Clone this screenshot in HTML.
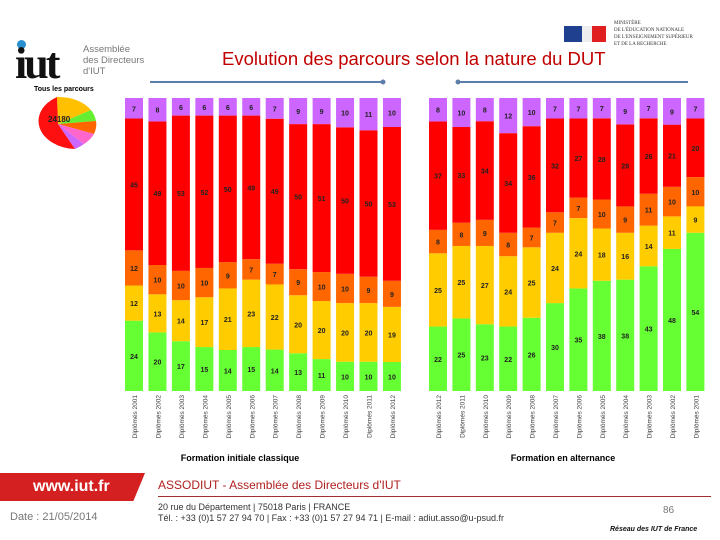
<!DOCTYPE html>
<html><head><meta charset="utf-8"><style>
body{margin:0;width:720px;height:540px;background:#fff;position:relative;overflow:hidden;font-family:"Liberation Sans",sans-serif}
.abs{position:absolute}
</style></head><body>
<div class="abs" style="left:12px;top:20px;width:140px;height:60px">
 <div class="abs" style="left:5px;top:20px;width:9px;height:9px;border-radius:50%;background:#2a8fd0"></div>
 <div class="abs" style="left:3px;top:18px;font:bold 44px 'Liberation Serif',serif;color:#111;letter-spacing:-3px">iut</div>
 <div class="abs" style="left:71px;top:24px;font:9.5px 'Liberation Sans',sans-serif;color:#777;line-height:11px;white-space:nowrap">Assemblée<br>des Directeurs<br>d'IUT</div>
</div>
<div class="abs" style="left:560px;top:20px;width:160px;height:40px">
 <div class="abs" style="left:4px;top:6px;width:18px;height:16px;background:#1f3f8f"></div>
 <div class="abs" style="left:22px;top:6px;width:10px;height:16px;background:#eee"></div>
 <div class="abs" style="left:32px;top:6px;width:14px;height:16px;background:#e02020"></div>
 <div class="abs" style="left:54px;top:0px;font:5px 'Liberation Serif',serif;color:#333;line-height:7px">MINISTÈRE<br>DE L'ÉDUCATION NATIONALE<br>DE L'ENSEIGNEMENT SUPÉRIEUR<br>ET DE LA RECHERCHE</div>
</div>
<div class="abs" style="left:222px;top:48px;font:18.5px 'Liberation Sans',sans-serif;color:#c00000;white-space:nowrap">Evolution des parcours selon la nature du DUT</div>
<div class="abs" style="left:34px;top:86px;font:bold 7px 'Liberation Sans',sans-serif">Tous les parcours</div>
<svg class="abs" style="left:0;top:0" width="720" height="540" id="svg">
 <line x1="150" y1="82" x2="383" y2="82" stroke="#5b7fa8" stroke-width="2"/>
 <circle cx="383" cy="82" r="2.5" fill="#5b7fa8"/>
 <line x1="458" y1="82" x2="688" y2="82" stroke="#5b7fa8" stroke-width="2"/>
 <circle cx="458" cy="82" r="2.5" fill="#5b7fa8"/>
 <g>
  <path d="M58,124 L57,97 A38,28 0 0 1 91,110 Z" fill="#ffc000"/>
  <path d="M58,124 L91,110 A38,28 0 0 1 96,121 Z" fill="#66ee33"/>
  <path d="M58,124 L96,121 A38,28 0 0 1 94,134 Z" fill="#ff6600"/>
  <path d="M58,124 L94,134 A38,28 0 0 1 84,144 Z" fill="#ff66cc"/>
  <path d="M58,124 L84,144 A38,28 0 0 1 75,149 Z" fill="#cc66ff"/>
  <path d="M58,124 L75,149 A38,28 0 0 1 57,97 Z" fill="#ff1010"/>
  <text x="48" y="122" font-size="8" font-weight="bold" fill="#222">24180</text>
 </g>
 <text x="240" y="461" font-size="9" font-weight="bold" text-anchor="middle">Formation initiale classique</text>
 <text x="563" y="461" font-size="9" font-weight="bold" text-anchor="middle">Formation en alternance</text>
</svg>
<div class="abs" style="left:0;top:473px;width:145px;height:28px;background:#d42020;clip-path:polygon(0 0,100% 0,92% 100%,0 100%)"></div>
<div class="abs" style="left:33px;top:478px;font:bold 16px 'Liberation Sans',sans-serif;color:#fff">www.iut.fr</div>
<div class="abs" style="left:10px;top:511px;font:11px 'Liberation Sans',sans-serif;color:#777">Date : 21/05/2014</div>
<div class="abs" style="left:158px;top:478px;font:12px 'Liberation Sans',sans-serif;color:#b02020">ASSODIUT - Assemblée des Directeurs d'IUT</div>
<div class="abs" style="left:158px;top:496px;width:553px;height:1px;background:#a03030"></div>
<div class="abs" style="left:158px;top:502px;font:9px 'Liberation Sans',sans-serif;color:#333;line-height:11px">20 rue du Département | 75018 Paris | FRANCE<br>Tél. : +33 (0)1 57 27 94 70 | Fax : +33 (0)1 57 27 94 71 | E-mail : adiut.asso@u-psud.fr</div>
<div class="abs" style="left:663px;top:505px;font:10px 'Liberation Sans',sans-serif;color:#777">86</div>
<div class="abs" style="left:610px;top:526px;font:italic bold 7px 'Liberation Sans',sans-serif;color:#111">Réseau des IUT de France</div>
<script>
const leftCats=["2001","2002","2003","2004","2005","2006","2007","2008","2009","2010","2011","2012"];
const rightCats=["2012","2011","2010","2009","2008","2007","2006","2005","2004","2003","2002","2001"];
const leftGreen=[24,20,17,15,14,15,14,13,11,10,10,10];
const leftYellow=[12,13,14,17,21,23,22,20,20,20,20,19];
const leftOrange=[12,10,10,10,9,7,7,9,10,10,9,9];
const leftRed=[45,49,53,52,50,49,49,50,51,50,50,53];
const leftViolet=[7,8,6,6,6,6,7,9,9,10,11,10];
const rightGreen=[22,25,23,22,26,30,35,38,38,43,48,54];
const rightYellow=[25,25,27,24,25,24,24,18,16,14,11,9];
const rightOrange=[8,8,9,8,7,7,7,10,9,11,10,10];
const rightRed=[37,33,34,34,36,32,27,28,28,26,21,20];
const rightViolet=[8,10,8,12,10,7,7,7,9,7,9,7];
const colors=["#66ff33","#ffcc00","#ff6600","#ff0000","#cc66ff"];
const segNames=["green","yellow","orange","red","violet"];
const svg=document.getElementById('svg');
const NS="http://www.w3.org/2000/svg";
const top0=98,bot0=391;
function draw(cats,series,x0,pitch,prefix){
 cats.forEach((c,i)=>{
  const vals=series.map(s=>s[i]);
  const tot=vals.reduce((a,b)=>a+b,0);
  const x=x0+i*pitch;
  let y=bot0;
  vals.forEach((v,k)=>{
   const h=v/tot*(bot0-top0);
   y-=h;
   const r=document.createElementNS(NS,'rect');
   r.setAttribute('x',x);r.setAttribute('y',y);r.setAttribute('width',18);r.setAttribute('height',h);r.setAttribute('fill',colors[k]);
   
   
   svg.appendChild(r);
   const t=document.createElementNS(NS,'text');
   t.setAttribute('x',x+9);t.setAttribute('y',y+h/2+3);t.setAttribute('font-size','7');t.setAttribute('font-weight','bold');
   t.setAttribute('text-anchor','middle');t.setAttribute('fill','#222');t.textContent=v;
   
   
   svg.appendChild(t);
  });
  const l=document.createElementNS(NS,'text');
  const lx=x+12,ly=395;
  l.setAttribute('x',lx);l.setAttribute('y',ly);l.setAttribute('font-size','6.5');l.setAttribute('fill','#444');
  l.setAttribute('text-anchor','end');l.setAttribute('transform','rotate(-90 '+lx+' '+ly+')');
  l.textContent='Diplômés '+c;
  
  
  svg.appendChild(l);
 });
}
draw(leftCats,[leftGreen,leftYellow,leftOrange,leftRed,leftViolet],125,23.45,'initial');
draw(rightCats,[rightGreen,rightYellow,rightOrange,rightRed,rightViolet],429,23.4,'alternance');
</script>
</body></html>
